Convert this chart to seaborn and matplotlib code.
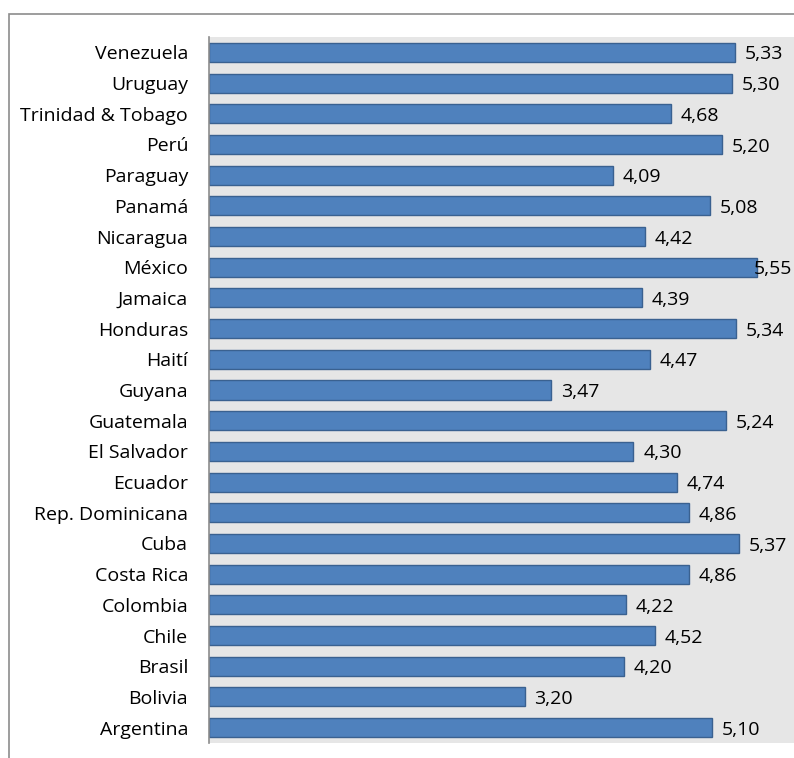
import matplotlib
matplotlib.use("Agg")
import matplotlib.pyplot as plt
import seaborn as sns
import pandas as pd
from matplotlib.patches import Rectangle

countries = ["Venezuela", "Uruguay", "Trinidad & Tobago", "Perú", "Paraguay", "Panamá",
             "Nicaragua", "México", "Jamaica", "Honduras", "Haití", "Guyana", "Guatemala",
             "El Salvador", "Ecuador", "Rep. Dominicana", "Cuba", "Costa Rica", "Colombia",
             "Chile", "Brasil", "Bolivia", "Argentina"]
values = [5.33, 5.30, 4.68, 5.20, 4.09, 5.08, 4.42, 5.55, 4.39, 5.34, 4.47, 3.47, 5.24,
          4.30, 4.74, 4.86, 5.37, 4.86, 4.22, 4.52, 4.20, 3.20, 5.10]

df = pd.DataFrame({"country": countries, "value": values})

sns.set_theme(style="white")
plt.rcParams["font.family"] = ["Open Sans", "DejaVu Sans"]

W, H = 794, 758
fig = plt.figure(figsize=(W / 100, H / 100), dpi=100)
ax = fig.add_axes([209 / W, 1 - 743 / H, 1 - 209 / W, (743 - 37) / H])
ax.set_facecolor("#E6E6E6")

sns.barplot(data=df, x="value", y="country", order=countries, orient="h",
            color="#4F81BD", saturation=1, width=0.62, edgecolor="#3A6190",
            linewidth=1.0, ax=ax)

ax.set_xlim(0, (W - 209) / 98.7)
ax.set_ylim(len(countries) - 0.5, -0.5)
ax.set_xlabel("")
ax.set_ylabel("")
ax.set_xticks([])
ax.tick_params(axis="y", length=0, pad=15, labelsize=14, labelcolor="#000000")
for s in ["top", "right", "bottom"]:
    ax.spines[s].set_visible(False)
ax.spines["left"].set_color("#8C8C8C")
ax.spines["left"].set_linewidth(1.2)

for i, v in enumerate(values):
    pad = 7 if v < 5.5 else -2
    ax.annotate(f"{v:.2f}".replace(".", ","), xy=(v, i), xytext=(pad, -1.5),
                textcoords="offset points", va="center", ha="left",
                fontsize=14, color="#000000", annotation_clip=False)

fig.patches.append(Rectangle((9 / W, -0.1), 1.2, 1 - 14 / H + 0.1, transform=fig.transFigure,
                             fill=False, edgecolor="#8C8C8C", linewidth=1.2, zorder=0))

fig.savefig("out.png", dpi=100, facecolor="white")
